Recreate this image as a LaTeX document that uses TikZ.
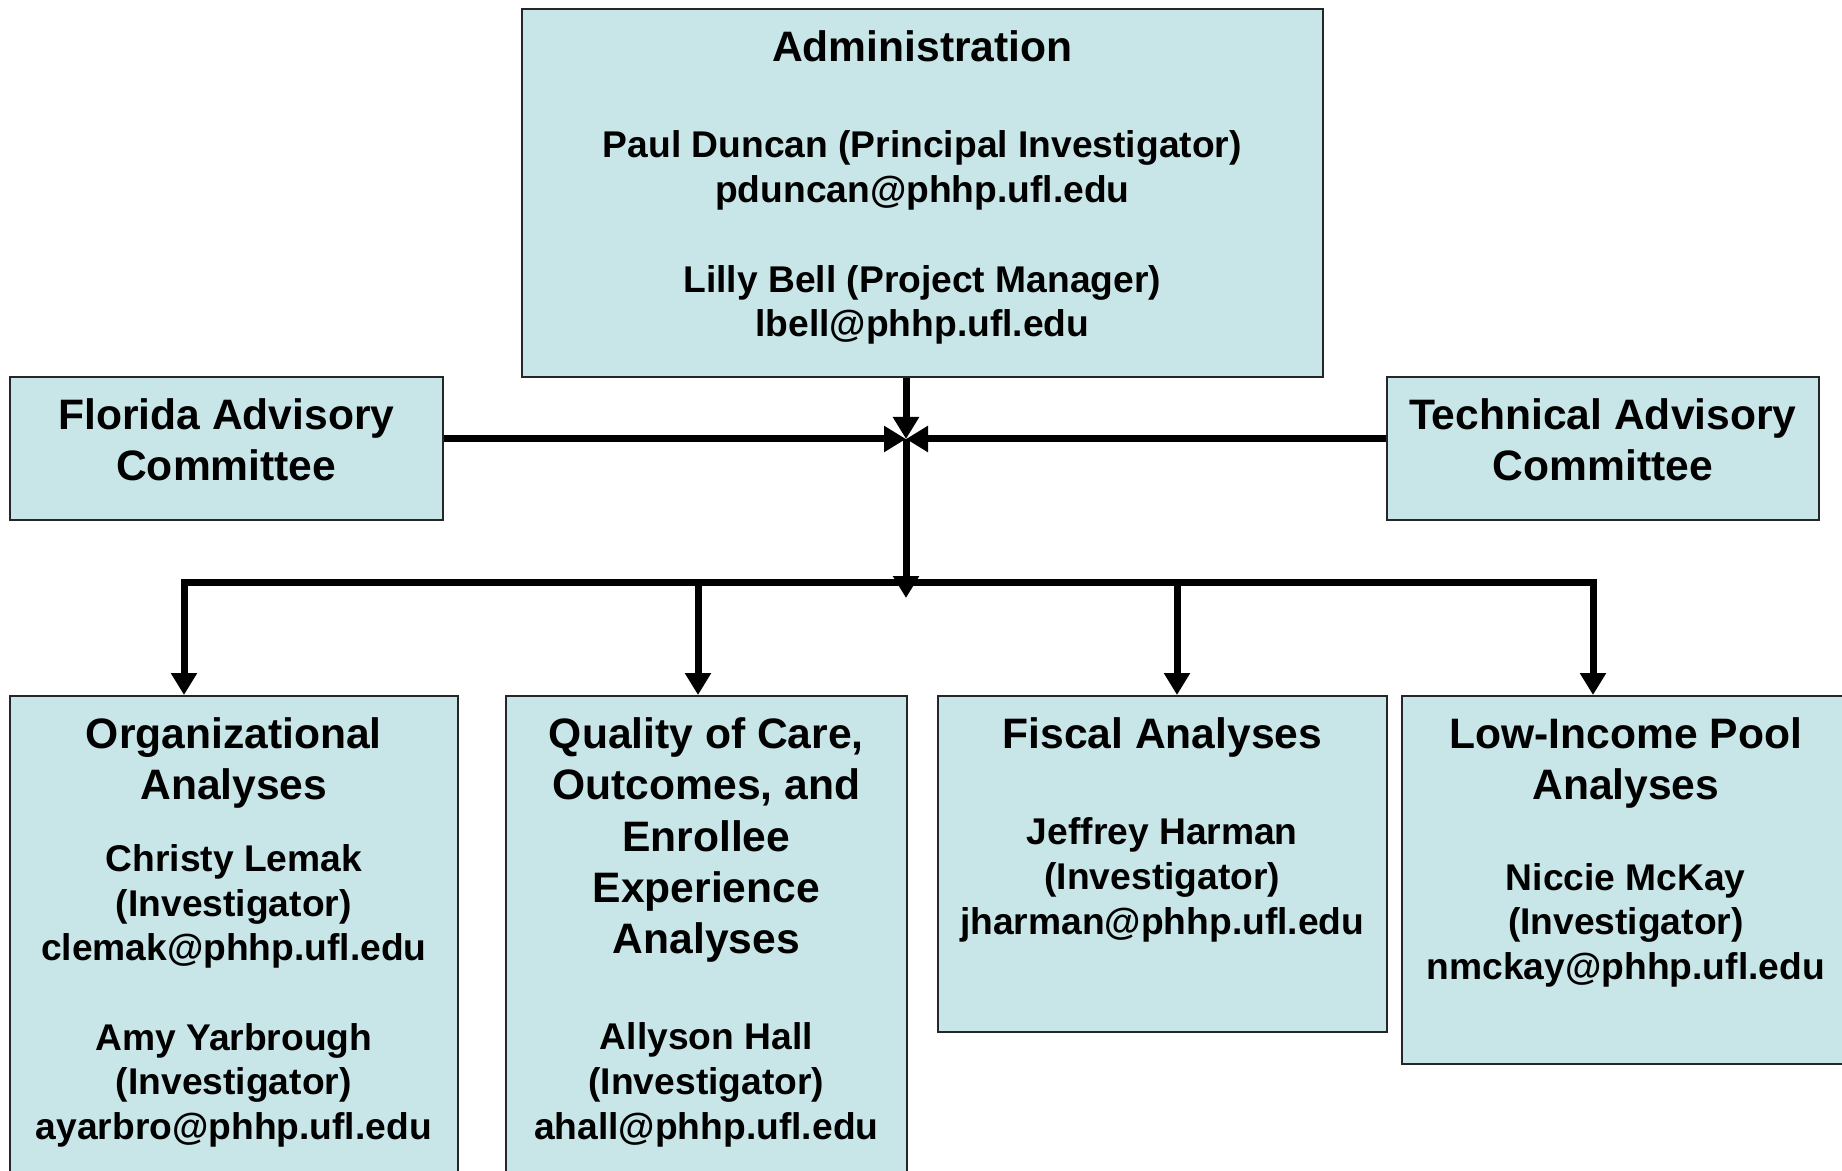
\documentclass[tikz,border=0pt]{standalone}
\usepackage{fontspec}
\setmainfont{Liberation Sans}
\usetikzlibrary{positioning,arrows.meta}
\definecolor{hellblau}{RGB}{200,229,231}
\newcommand{\titel}{\fontsize{21.3}{25.4}\selectfont}

\begin{document}
\begin{tikzpicture}[x=.5pt, y=-.5pt, >={Triangle[length=11pt,width=12.5pt]},
  font=\fontsize{18.6}{22.3}\selectfont\bfseries,
  kasten/.style={draw=black!85, line width=.8pt, fill=hellblau, anchor=north west, inner sep=0pt},
  txt/.style={align=center, inner sep=0pt},
  pfeil/.style={line width=3.5pt, ->}]
   %Rahmen
   \useasboundingbox (0,0) rectangle (1842,1171);

%Kaesten
\node[kasten, minimum width=400.5pt, minimum height=184pt] (adm) at (521,8) {};
\node[kasten, minimum width=216.5pt, minimum height=71.5pt] (fac) at (9,376) {};
\node[kasten, minimum width=216pt, minimum height=71.5pt] (tac) at (1386,376) {};
\node[kasten, minimum width=224pt, minimum height=252.5pt] (org) at (9,695) {};
\node[kasten, minimum width=200.5pt, minimum height=252.5pt] (qoc) at (505,695) {};
\node[kasten, minimum width=224.5pt, minimum height=168pt] (fis) at (937,695) {};
\node[kasten, minimum width=224pt, minimum height=184pt] (low) at (1401,695) {};

%Texte
\node[txt, below=11pt of adm.north] (adm-t) {{\titel Administration}\\[25.95pt]
  Paul Duncan (Principal Investigator)\\pduncan@phhp.ufl.edu\\[22.7pt]
  Lilly Bell (Project Manager)\\lbell@phhp.ufl.edu};
\node[txt, below=11pt of fac.north] (fac-t) {{\titel Florida Advisory}\\[3.1pt]{\titel Committee}};
\node[txt, below=11pt of tac.north] (tac-t) {{\titel Technical Advisory}\\[3.1pt]{\titel Committee}};
\node[txt, below=11pt of org.north] (org-t) {{\titel Organizational}\\[3.1pt]{\titel Analyses}\\[14pt]
  Christy Lemak\\(Investigator)\\clemak@phhp.ufl.edu\\[22.3pt]
  Amy Yarbrough\\(Investigator)\\ayarbro@phhp.ufl.edu};
\node[txt, below=11pt of qoc.north] (qoc-t) {{\titel Quality of Care,}\\[3.4pt]{\titel Outcomes, and}\\[3.4pt]
  {\titel Enrollee}\\[3.4pt]{\titel Experience}\\[3.4pt]{\titel Analyses}\\[25.7pt]
  Allyson Hall\\(Investigator)\\ahall@phhp.ufl.edu};
\node[txt, below=11pt of fis.north] (fis-t) {{\titel Fiscal Analyses}\\[26pt]
  Jeffrey Harman\\(Investigator)\\jharman@phhp.ufl.edu};
\node[txt, below=11pt of low.north] (low-t) {{\titel Low-Income Pool}\\[3.1pt]{\titel Analyses}\\[23.2pt]
  Niccie McKay\\(Investigator)\\nmckay@phhp.ufl.edu};

\coordinate(j) at (906,439);
\coordinate(s) at (906,598);

\coordinate(k1) at (184,582);
\coordinate(k2) at (698,582);
\coordinate(k3) at (1177,582);
\coordinate(k4) at (1593,582);
%Pfeile
\draw[pfeil] (j |- adm.south) -- (j);
\draw[pfeil] (fac.east |- j) -- (j);
\draw[pfeil] (tac.west |- j) -- (j);
\draw[line width=3.5pt, line cap=rect] (k1) -- (k4);
\draw[pfeil] (j) -- (s);
\foreach \k/\n in {k1/org, k2/qoc, k3/fis, k4/low}
  \draw[pfeil] (\k) -- (\k |- \n.north);
\end{tikzpicture}
\end{document}
